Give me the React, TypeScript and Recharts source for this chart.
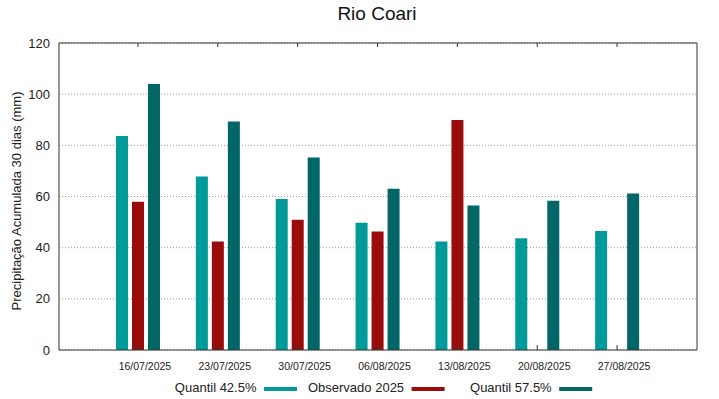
import React from 'react';
import {
  Bar,
  BarChart,
  CartesianGrid,
  Legend,
  XAxis,
  YAxis,
} from 'recharts';

// ─── Data ────────────────────────────────────────────────────────────

const DATES = [
  '16/07/2025', '23/07/2025', '30/07/2025', '06/08/2025',
  '13/08/2025', '20/08/2025', '27/08/2025',
];

const QUANTIL_425 = [83.6, 67.8, 59.0, 49.7, 42.4, 43.7, 46.5];
const OBSERVADO_2025 = [57.9, 42.4, 50.9, 46.3, 89.9, null, null];
const QUANTIL_575 = [104.0, 89.3, 75.2, 63.0, 56.5, 58.3, 61.2];

const Y_TICKS = [0, 20, 40, 60, 80, 100, 120];

const SERIES = [
  { key: 'q425', label: 'Quantil 42.5%', color: '#009a9a' },
  { key: 'obs', label: 'Observado 2025', color: '#9a0c0c' },
  { key: 'q575', label: 'Quantil 57.5%', color: '#006666' },
];

const data = DATES.map((date, i) => ({
  date,
  q425: QUANTIL_425[i],
  obs: OBSERVADO_2025[i],
  q575: QUANTIL_575[i],
}));

const FONT = '"Liberation Sans", Arial, sans-serif';
const AXIS_COLOR = '#333333';
const X_PAD = { left: 39, right: 40 };

// ─── Ticks ───────────────────────────────────────────────────────────

// eixo inferior: tracinho para dentro + rótulo deslocado à direita
const BottomTick = (props: any) => {
  const { x, y, payload } = props;
  return (
    <g>
      <line x1={x} y1={y} x2={x} y2={y - 5} stroke={AXIS_COLOR} />
      <text x={x + 7} y={y + 20} textAnchor="middle" fontSize={10.5} fill="#222" fontFamily={FONT}>
        {payload.value}
      </text>
    </g>
  );
};

const TopTick = (props: any) => {
  const { x, y } = props;
  return <line x1={x} y1={y} x2={x} y2={y + 4} stroke={AXIS_COLOR} />;
};

const RightTick = (props: any) => {
  const { x, y } = props;
  return <line x1={x} y1={y} x2={x - 4} y2={y} stroke={AXIS_COLOR} />;
};

const YLabel = () => (
  <text
    x={16}
    y={201}
    transform="rotate(-90, 16, 201)"
    textAnchor="middle"
    dominantBaseline="central"
    fontSize={13}
    fill="#222"
    fontFamily={FONT}
  >
    Precipitação Acumulada 30 dias (mm)
  </text>
);

const KeyContent = () => (
  <svg width={719} height={24} style={{ display: 'block' }}>
    {SERIES.map((s, i) => {
      const sx = 264 + i * 147.6;
      return (
        <g key={s.key}>
          <text
            x={sx - 7.5}
            y={12}
            textAnchor="end"
            dominantBaseline="central"
            fontSize={13}
            fill="#222"
            fontFamily={FONT}
          >
            {s.label}
          </text>
          <rect x={sx} y={12} width={33} height={4} fill={s.color} />
        </g>
      );
    })}
  </svg>
);

// ─── Component ───────────────────────────────────────────────────────

export default function App() {
  return (
    <div style={{ position: 'relative', width: 719, height: 399, background: '#fff', fontFamily: FONT }}>
      <style>{'body { margin: 0; }'}</style>
      <div
        style={{
          position: 'absolute',
          left: 0,
          width: 754,
          top: 3,
          textAlign: 'center',
          fontSize: 19,
          color: '#111',
        }}
      >
        Rio Coari
      </div>
      <BarChart
        width={719}
        height={399}
        data={data}
        margin={{ top: 42, right: 21, bottom: 0, left: 0 }}
        barSize={12}
        barGap={4}
      >
        <CartesianGrid
          horizontal
          vertical={false}
          stroke="#9a9a9a"
          strokeDasharray="1 2"
        />
        <XAxis
          dataKey="date"
          height={49}
          padding={X_PAD}
          axisLine={{ stroke: AXIS_COLOR }}
          tickLine={false}
          tickSize={0}
          tickMargin={0}
          interval={0}
          tick={<BottomTick />}
        />
        <XAxis
          xAxisId="top"
          dataKey="date"
          orientation="top"
          height={1}
          padding={X_PAD}
          axisLine={{ stroke: AXIS_COLOR }}
          tickLine={false}
          tickSize={0}
          tickMargin={0}
          interval={0}
          tick={<TopTick />}
        />
        <YAxis
          width={59}
          domain={[0, 120]}
          ticks={Y_TICKS}
          axisLine={{ stroke: AXIS_COLOR }}
          tickLine={false}
          tickSize={0}
          tickMargin={9}
          tick={{ fontSize: 13, fill: '#222', fontFamily: FONT }}
          label={<YLabel />}
        />
        <YAxis
          yAxisId="right"
          orientation="right"
          width={1}
          domain={[0, 120]}
          ticks={Y_TICKS}
          axisLine={{ stroke: AXIS_COLOR }}
          tickLine={false}
          tickSize={0}
          tickMargin={0}
          tick={<RightTick />}
        />
        <Legend
          verticalAlign="middle"
          align="center"
          wrapperStyle={{ position: 'absolute', left: 0, top: 375, width: 719, height: 24 }}
          content={<KeyContent />}
        />
        {SERIES.map((s) => (
          <Bar key={s.key} dataKey={s.key} name={s.label} fill={s.color} isAnimationActive={false} />
        ))}
      </BarChart>
    </div>
  );
}
